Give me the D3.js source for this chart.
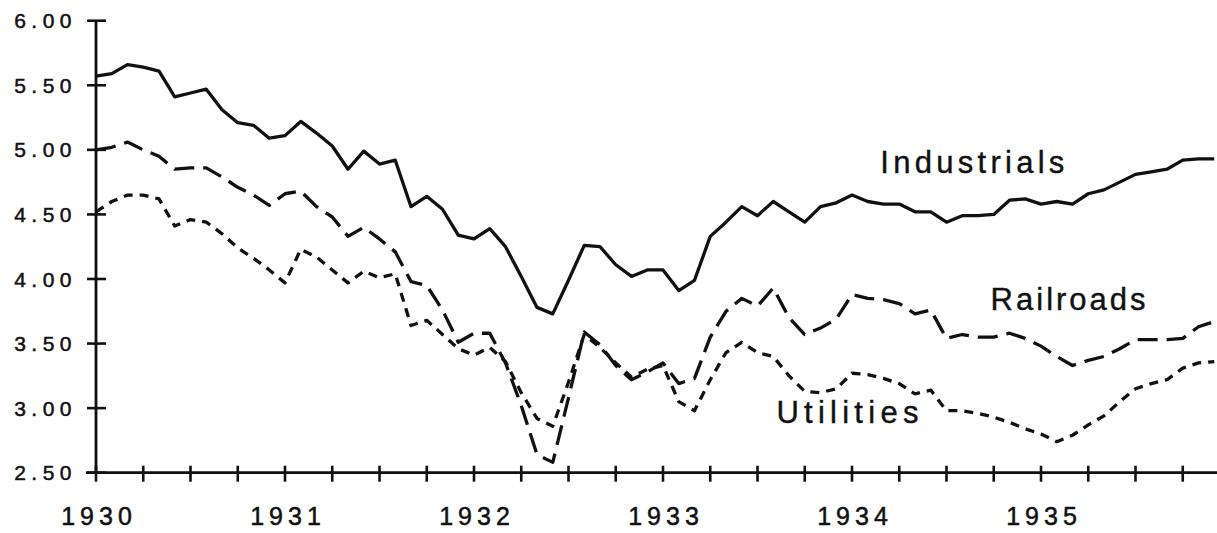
<!DOCTYPE html>
<html lang="en">
<head>
<meta charset="utf-8">
<title>Bond yields 1930-1935</title>
<style>
html,body{margin:0;padding:0;background:#fff;}
svg{display:block;}
.tick-label{font-family:"Liberation Sans",Arial,Helvetica,sans-serif;fill:#111;stroke:#111;stroke-width:0.5px;}
.series-label{font-family:"Liberation Sans",Arial,Helvetica,sans-serif;fill:#111;stroke:#111;stroke-width:0.4px;font-size:31px;}
</style>
</head>
<body>
<svg id="chart" width="1217" height="533"></svg>
<script src="https://cdn.jsdelivr.net/npm/d3@7"></script>
<script>
/* ---------- data (monthly, Jan 1930 .. Dec 1935) ---------- */
const yearLabels = ['1930','1931','1932','1933','1934','1935'];
const yTicks = [2.5, 3.0, 3.5, 4.0, 4.5, 5.0, 5.5, 6.0];

const industrials = [
  5.57,5.59,5.66,5.64,5.61,5.41,5.44,5.47,5.31,5.21,5.19,5.09,
  5.11,5.22,5.13,5.03,4.85,4.99,4.89,4.92,4.56,4.64,4.54,4.34,
  4.31,4.39,4.25,4.02,3.78,3.73,3.99,4.26,4.25,4.11,4.02,4.07,
  4.07,3.91,3.99,4.33,4.44,4.56,4.49,4.60,4.52,4.44,4.56,4.59,
  4.65,4.60,4.58,4.58,4.52,4.52,4.44,4.49,4.49,4.50,4.61,4.62,
  4.58,4.60,4.58,4.66,4.69,4.75,4.81,4.83,4.85,4.92,4.93,4.93
];
const railroads = [
  5.00,5.02,5.06,5.00,4.95,4.85,4.86,4.86,4.79,4.71,4.65,4.57,
  4.66,4.68,4.56,4.48,4.33,4.40,4.31,4.21,3.98,3.95,3.76,3.51,
  3.58,3.58,3.35,3.02,2.64,2.58,3.08,3.59,3.49,3.33,3.22,3.28,
  3.35,3.19,3.23,3.55,3.75,3.85,3.79,3.93,3.70,3.57,3.62,3.69,
  3.88,3.85,3.84,3.81,3.73,3.76,3.54,3.57,3.55,3.55,3.58,3.54,
  3.48,3.40,3.33,3.37,3.40,3.46,3.53,3.53,3.53,3.54,3.63,3.67
];
const utilities = [
  4.52,4.60,4.65,4.65,4.62,4.41,4.46,4.44,4.35,4.24,4.16,4.07,
  3.97,4.23,4.17,4.07,3.97,4.06,4.01,4.04,3.64,3.68,3.57,3.46,
  3.41,3.47,3.36,3.12,2.92,2.86,3.20,3.57,3.47,3.35,3.24,3.30,
  3.33,3.05,2.98,3.22,3.43,3.51,3.43,3.40,3.25,3.13,3.12,3.15,
  3.27,3.26,3.23,3.19,3.11,3.14,2.98,2.98,2.96,2.93,2.89,2.84,
  2.80,2.74,2.79,2.87,2.94,3.05,3.15,3.19,3.22,3.31,3.35,3.36
];

/* ---------- scales ---------- */
const W = 1217, H = 533;
const svg = d3.select('#chart');
const x = d3.scaleLinear().domain([0, 72]).range([96, 1230]);   // month index
const y = d3.scaleLinear().domain([2.5, 6.0]).range([472.7, 20.7]);

const ink = '#111';

/* ---------- axes ---------- */
const axes = svg.append('g');
// y axis line + crossing ticks
axes.append('line')
  .attr('x1', x(0)).attr('x2', x(0))
  .attr('y1', y(6.0)).attr('y2', y(2.5))
  .attr('stroke', ink).attr('stroke-width', 2.8);
axes.selectAll('line.ytick').data(yTicks).join('line')
  .attr('class','ytick')
  .attr('x1', x(0) - 9).attr('x2', x(0) + 10)
  .attr('y1', d => y(d)).attr('y2', d => y(d))
  .attr('stroke', ink).attr('stroke-width', 2.6);
axes.selectAll('text.ylab').data(yTicks).join('text')
  .attr('class','tick-label ylab')
  .attr('x', 77).attr('y', d => y(d))
  .attr('dy', '0.36em')
  .attr('text-anchor', 'end')
  .style('font-size', '21px')
  .style('letter-spacing', '5.5px')
  .text(d => d3.format('.2f')(d));

// x axis line + quarterly ticks
axes.append('line')
  .attr('x1', x(0) - 10).attr('x2', W)
  .attr('y1', y(2.5)).attr('y2', y(2.5))
  .attr('stroke', ink).attr('stroke-width', 2.8);
const quarters = d3.range(0, 72, 3);
axes.selectAll('line.xtick').data(quarters).join('line')
  .attr('class','xtick')
  .attr('x1', d => x(d)).attr('x2', d => x(d))
  .attr('y1', y(2.5) - 7).attr('y2', y(2.5) + 9)
  .attr('stroke', ink).attr('stroke-width', 2.6);
axes.selectAll('text.xlab').data(yearLabels).join('text')
  .attr('class','tick-label xlab')
  .attr('x', (d, i) => x(i * 12) + 3)
  .attr('y', 525)
  .attr('text-anchor', 'middle')
  .style('font-size', '25px')
  .style('letter-spacing', '5px')
  .text(d => d);

/* ---------- lines ---------- */
const line = d3.line().x((d, i) => x(i)).y(d => y(d));
const series = [
  {name:'Industrials', values: industrials, dash: null},
  {name:'Railroads',   values: railroads,   dash: '20,9'},
  {name:'Utilities',   values: utilities,   dash: '9,7'}
];
svg.append('g').selectAll('path').data(series).join('path')
  .attr('d', d => line(d.values))
  .attr('fill', 'none')
  .attr('stroke', ink)
  .attr('stroke-width', 3.3)
  .attr('stroke-linejoin', 'round')
  .attr('stroke-dasharray', d => d.dash);

/* ---------- series labels ---------- */
const labels = [
  {text:'Industrials', mx: 49.8, v: 4.82, len: 184},
  {text:'Railroads',   mx: 56.8, v: 3.76, len: 155},
  {text:'Utilities',   mx: 43.2, v: 2.885, len: 142}
];
svg.append('g').selectAll('text').data(labels).join('text')
  .attr('class','series-label')
  .attr('x', d => x(d.mx))
  .attr('y', d => y(d.v))
  .attr('textLength', d => d.len)
  .attr('lengthAdjust', 'spacing')
  .text(d => d.text);
</script>
</body>
</html>
